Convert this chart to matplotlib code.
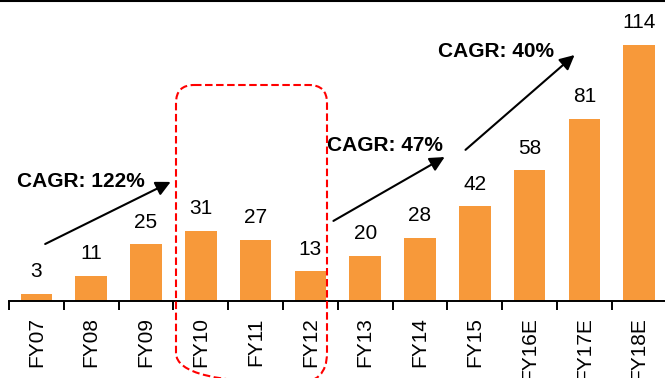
import matplotlib
matplotlib.use("Agg")
import matplotlib.pyplot as plt
from matplotlib.path import Path
from matplotlib.patches import PathPatch
from matplotlib.lines import Line2D
from matplotlib.transforms import IdentityTransform

plt.rcParams['font.family'] = ['Liberation Sans', 'DejaVu Sans']

# Revenue by fiscal year (FY16E-FY18E are estimates)
years = ["FY07", "FY08", "FY09", "FY10", "FY11", "FY12",
         "FY13", "FY14", "FY15", "FY16E", "FY17E", "FY18E"]
values = [3, 11, 25, 31, 27, 13, 20, 28, 42, 58, 81, 114]

# Growth-rate call-outs: label, arrow tail, arrow tip, label anchor (data units)
cagr_labels = ["CAGR: 122%", "CAGR: 47%", "CAGR: 40%"]
cagr_tails = [(0.16, 25.2), (5.42, 35.5), (7.83, 67.2)]
cagr_tips = [(2.45, 52.9), (7.45, 64.0), (9.82, 109.5)]
cagr_text_pos = [(-0.35, 50.6), (5.31, 66.7), (7.32, 108.7)]

W, H, DPI = 665, 378, 100
fig = plt.figure(figsize=(W / DPI, H / DPI), dpi=DPI)

ax_left, ax_bottom = 9, 378 - 300.5
ax_width, ax_height = 657.6, 299.5
ax = fig.add_axes([ax_left / W, ax_bottom / H, ax_width / W, ax_height / H])

x = list(range(len(years)))
ax.bar(x, values, width=0.58, color="#F7993A", zorder=2)

ax.set_xlim(-0.5, len(years) - 0.5)
ax.set_ylim(0, 133.6)

for s in ("top", "left", "right"):
    ax.spines[s].set_visible(False)
ax.spines["bottom"].set_linewidth(1.4)
ax.set_yticks([])

ax.set_xticks(x)
ax.set_xticklabels(years, rotation=90, fontsize=15, va="top", ha="center")
ax.tick_params(axis="x", which="major", length=0, pad=12)
ax.set_xticks([i - 0.5 for i in range(len(years) + 1)], minor=True)
ax.tick_params(axis="x", which="minor", length=6.5, width=1.4, direction="out")

for xi, v in zip(x, values):
    ax.annotate(str(v), (xi, v), xytext=(0, 12), textcoords="offset points",
                ha="center", va="baseline", fontsize=15)

for label, tail, tip, tpos in zip(cagr_labels, cagr_tails, cagr_tips, cagr_text_pos):
    ax.annotate("", xy=tip, xytext=tail,
                arrowprops=dict(arrowstyle="-|>", color="black", lw=1.5,
                                mutation_scale=22, shrinkA=0, shrinkB=0))
    ax.text(tpos[0], tpos[1], label, fontsize=15, fontweight="bold",
            ha="left", va="baseline")

# Dashed rounded frame around FY10-FY12 (pixel coordinates, y measured from top)
x0, x1, ytop, ybot = 176, 327, 85, 383
rt, rb = 18, 30
def P(px, py):
    return (px, H - py)
verts = [P(x0 + rt, ytop), P(x1 - rt, ytop), P(x1, ytop), P(x1, ytop + rt),
         P(x1, ybot - rb), P(x1, ybot), P(x1 - rb, ybot),
         P(x0 + rb, ybot), P(x0, ybot), P(x0, ybot - rb),
         P(x0, ytop + rt), P(x0, ytop), P(x0 + rt, ytop)]
codes = [Path.MOVETO, Path.LINETO, Path.CURVE3, Path.CURVE3,
         Path.LINETO, Path.CURVE3, Path.CURVE3,
         Path.LINETO, Path.CURVE3, Path.CURVE3,
         Path.LINETO, Path.CURVE3, Path.CURVE3]
frame = PathPatch(Path(verts, codes), transform=IdentityTransform(),
                  fill=False, edgecolor="#FF0000", lw=1.5,
                  linestyle=(0, (3.6, 1.7)), zorder=5)
fig.add_artist(frame)

# Rule along the top edge
fig.add_artist(Line2D([0, 1], [1 - 1 / H, 1 - 1 / H], color="black", lw=1.5,
                      transform=fig.transFigure))

fig.savefig("out.png", dpi=DPI)
